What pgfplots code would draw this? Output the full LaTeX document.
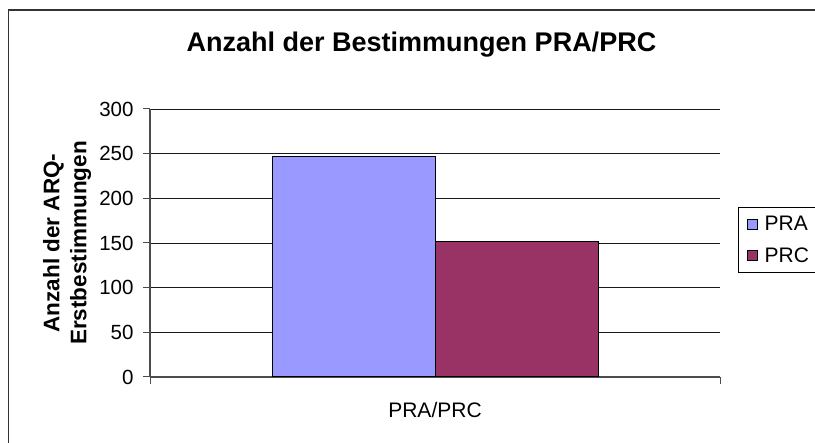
\documentclass[border=0pt]{standalone}
\usepackage{pgfplots}
\pgfplotsset{compat=1.18}
\usepackage{fontspec}
\setmainfont{Liberation Sans}
\definecolor{praC}{HTML}{9999FF}
\definecolor{prcC}{HTML}{993366}
\begin{document}
\begin{tikzpicture}[x=1pt,y=1pt]
\path[use as bounding box] (0,0) rectangle (815,443);
\draw[line width=1.6pt, black!80] (8.5,-5) -- (8.5,433) -- (830,433);
\begin{axis}[
  at={(150pt,66pt)}, anchor=south west,
  scale only axis, width=570pt, height=268pt,
  xmin=-0.5, xmax=0.5, ymin=0, ymax=300,
  ytick={0,50,...,300},
  xtick={-0.5,0.5}, xticklabels={,},
  axis x line*=bottom, axis y line*=left,
  axis line style={-, black!70, line width=1.2pt},
  ymajorgrids, grid style={black!90, line width=0.8pt},
  tick style={black!70, line width=1pt},
  major tick length=7pt,
  tick align=outside,
  ybar=0pt, bar width=163pt,
  ticklabel style={font=\fontsize{20.5}{24}\selectfont},
  yticklabel style={xshift=-6pt},
  /pgf/number format/assume math mode=true,
  legend style={at={(1.032,0.634)}, anchor=north west, draw=black, line width=0.8pt,
    font=\fontsize{21}{24}\selectfont, inner xsep=4pt, inner ysep=7pt, row sep=11pt,
    legend cell align=left},
  legend image code/.code={\path (-4pt,0) (15pt,0);\draw[#1, line width=0.9pt] (0pt,-5pt) rectangle (10pt,5pt);},
]
\addplot[fill=praC, draw=black, line width=1pt, bar shift=-81.5pt] coordinates {(0,247)};
\addplot[fill=prcC, draw=black, line width=1pt, bar shift=81.5pt] coordinates {(0,152)};
\legend{PRA,PRC}
\end{axis}
\node[anchor=base, font=\bfseries\fontsize{27}{31}\selectfont] at (421.5,391) {Anzahl der Bestimmungen PRA/PRC};
\node[font=\fontsize{21}{24}\selectfont] at (435,33) {PRA/PRC};
\node[rotate=90, align=center, font=\bfseries\fontsize{22.5}{27}\selectfont] at (67,200) {Anzahl der ARQ-\\Erstbestimmungen};
\end{tikzpicture}
\end{document}
